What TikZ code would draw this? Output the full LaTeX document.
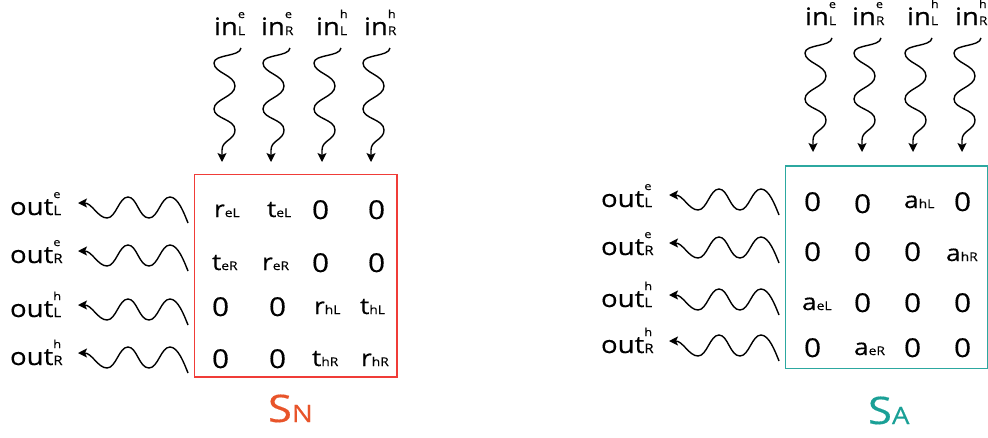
\documentclass[tikz,border=0pt]{standalone}
\usepackage{fontspec}
\setmainfont{Open Sans}[FakeStretch=1.15,FakeBold=0.35]
\usetikzlibrary{arrows.meta}

\definecolor{framered}{RGB}{240,60,56}
\definecolor{namered}{HTML}{E8542A}
\definecolor{frameteal}{HTML}{2CA8A0}
\definecolor{nameteal}{HTML}{1AA096}

% sized text helpers
\newcommand\fs[2]{{\fontsize{#1}{#1}\selectfont #2}}
% matrix entry: big letter with small index on the same baseline
\newcommand\ent[2]{\fs{23}{#1}\fs{12}{#2}}
\newcommand\zr{\fs{26}{0}}
% port label: word, subscript on the baseline, superscript above it
\newcommand\port[5]{\fs{#1}{#2}\hbox to 0pt{\fs{#3}{#4}\hss}\raisebox{17pt}{\hbox to 0pt{\fs{11}{#5}\hss}}}

\tikzset{
  wave/.style={line width=1.4pt, -{Stealth[length=9pt,width=9pt,inset=2pt]}},
  lbl/.style={anchor=base west, inner sep=0pt, outer sep=0pt},
  sbox/.style={minimum width=202pt, minimum height=202pt, anchor=north west, inner sep=0pt},
  frame/.style={line width=1.3pt},
}

% incoming wave, drawn relative to its arrow tip
\newcommand\vwave[1]{%
  \draw[wave, shift={(#1)}] (19,-114)
    .. controls (18,-105) and (-8,-108) .. (-8,-99)
    .. controls (-8,-89) and (13,-87) .. (13,-76)
    .. controls (13,-65) and (-8,-63) .. (-8,-53)
    .. controls (-8,-43) and (13,-43) .. (13,-32)
    .. controls (13,-22) and (0,-22) .. (0,-12)
    -- (0,0);}
% outgoing wave, drawn relative to its arrow tip
\newcommand\hwave[1]{%
  \draw[wave, shift={(#1)}] (110,20)
    .. controls (106,10) and (100,-6) .. (92,-6)
    .. controls (83,-6) and (80,15) .. (71,15)
    .. controls (61,15) and (59,-6) .. (50,-6)
    .. controls (41,-6) and (38,15) .. (29,15)
    .. controls (20,15) and (14,0) .. (0,0);}

\begin{document}
\begin{tikzpicture}[x=1pt, y=-1pt]
\useasboundingbox (0,0) rectangle (988,437);

% matrix areas
\node[sbox] (nbox) at (194.5,174.5) {};
\node[sbox] (abox) at (785.5,166) {};
\draw[frame, draw=framered] (nbox.north west) rectangle (nbox.south east);
\draw[frame, draw=frameteal] (abox.north west) rectangle (abox.south east);

% ---------------- normal scattering matrix ----------------
\node[lbl] (nin1) at (214,35) {\port{24}{in}{12}{L}{e}};
\node[lbl] (nin2) at (261,35) {\port{24}{in}{12}{R}{e}};
\node[lbl] (nin3) at (316,35) {\port{24}{in}{12}{L}{h}};
\node[lbl] (nin4) at (364,35) {\port{24}{in}{12}{R}{h}};

\coordinate (nt1) at (222,162);
\coordinate (nt2) at (271,162);
\coordinate (nt3) at (322,162);
\coordinate (nt4) at (371,162);
\foreach \i in {1,...,4} {\vwave{nt\i}}

\node[lbl] (nout1) at (10,215) {\port{24}{out}{13}{L}{e}};
\node[lbl] (nout2) at (10,263) {\port{24}{out}{13}{R}{e}};
\node[lbl] (nout3) at (10,317) {\port{24}{out}{13}{L}{h}};
\node[lbl] (nout4) at (10,365) {\port{24}{out}{13}{R}{h}};

\coordinate (no1) at (78,203);
\coordinate (no2) at (78,251);
\coordinate (no3) at (78,305);
\coordinate (no4) at (78,353);
\foreach \i in {1,...,4} {\hwave{no\i}}

\node[lbl] (n11) at (214,217) {\ent{r}{eL}};
\node[lbl] (n12) at (267,217) {\ent{t}{eL}};
\node[lbl] (n13) at (312,219) {\zr};
\node[lbl] (n14) at (368,219) {\zr};
\node[lbl] (n21) at (212,270) {\ent{t}{eR}};
\node[lbl] (n22) at (262,270) {\ent{r}{eR}};
\node[lbl] (n23) at (312,272) {\zr};
\node[lbl] (n24) at (368,272) {\zr};
\node[lbl] (n31) at (212,316) {\zr};
\node[lbl] (n32) at (269,316) {\zr};
\node[lbl] (n33) at (314,314) {\ent{r}{hL}};
\node[lbl] (n34) at (360,314) {\ent{t}{hL}};
\node[lbl] (n41) at (212,368) {\zr};
\node[lbl] (n42) at (269,368) {\zr};
\node[lbl] (n43) at (312,366) {\ent{t}{hR}};
\node[lbl] (n44) at (361,366) {\ent{r}{hR}};

\node[lbl, text=namered] (nname) at (268,422) {\fs{38}{S}\fs{24}{N}};

% ---------------- Andreev scattering matrix ----------------
\node[lbl] (ain1) at (805,25) {\port{24}{in}{12}{L}{e}};
\node[lbl] (ain2) at (852,25) {\port{24}{in}{12}{R}{e}};
\node[lbl] (ain3) at (907,25) {\port{24}{in}{12}{L}{h}};
\node[lbl] (ain4) at (955,25) {\port{24}{in}{12}{R}{h}};

\coordinate (at1) at (813,152);
\coordinate (at2) at (862,152);
\coordinate (at3) at (913,152);
\coordinate (at4) at (962,152);
\foreach \i in {1,...,4} {\vwave{at\i}}

\node[lbl] (aout1) at (601,207) {\port{24}{out}{13}{L}{e}};
\node[lbl] (aout2) at (601,255) {\port{24}{out}{13}{R}{e}};
\node[lbl] (aout3) at (601,307) {\port{24}{out}{13}{L}{h}};
\node[lbl] (aout4) at (601,353) {\port{24}{out}{13}{R}{h}};

\coordinate (ao1) at (669,195);
\coordinate (ao2) at (669,243);
\coordinate (ao3) at (669,295);
\coordinate (ao4) at (669,341);
\foreach \i in {1,...,4} {\hwave{ao\i}}

\node[lbl] (a11) at (804,211) {\zr};
\node[lbl] (a12) at (854,213) {\zr};
\node[lbl] (a13) at (904,208) {\ent{a}{hL}};
\node[lbl] (a14) at (954,211) {\zr};
\node[lbl] (a21) at (804,261) {\zr};
\node[lbl] (a22) at (854,261) {\zr};
\node[lbl] (a23) at (904,261) {\zr};
\node[lbl] (a24) at (946,261) {\ent{a}{hR}};
\node[lbl] (a31) at (802,310) {\ent{a}{eL}};
\node[lbl] (a32) at (854,312) {\zr};
\node[lbl] (a33) at (904,312) {\zr};
\node[lbl] (a34) at (954,312) {\zr};
\node[lbl] (a41) at (804,357) {\zr};
\node[lbl] (a42) at (854,355) {\ent{a}{eR}};
\node[lbl] (a43) at (904,357) {\zr};
\node[lbl] (a44) at (954,357) {\zr};

\node[lbl, text=nameteal] (aname) at (868,424) {\fs{38}{S}\fs{24}{A}};
\end{tikzpicture}
\end{document}
